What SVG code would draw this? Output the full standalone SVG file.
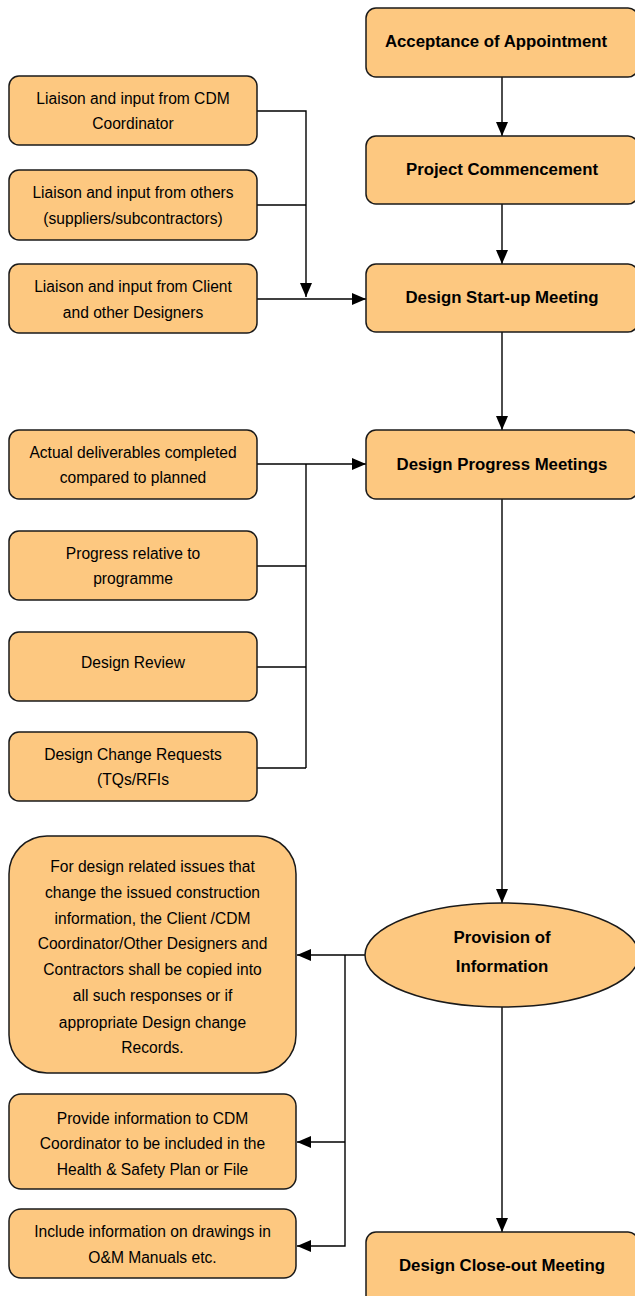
<svg xmlns="http://www.w3.org/2000/svg" width="635" height="1296" viewBox="0 0 635 1296">
<style>
.box{fill:#FDC880;stroke:#1a1a1a;stroke-width:1.5}
.t{font-family:"Liberation Sans",Arial,sans-serif;font-size:15.6px;fill:#000;text-anchor:middle}
.b{font-family:"Liberation Sans",Arial,sans-serif;font-size:16.8px;font-weight:bold;fill:#000;text-anchor:middle}
.c{fill:none;stroke:#000;stroke-width:1.4}
</style>
<defs>
<marker id="arr" markerUnits="userSpaceOnUse" markerWidth="14" markerHeight="12" refX="14" refY="6" orient="auto">
<path d="M0,0 L14,6 L0,12 z" fill="#000"/>
</marker>
</defs>
<rect width="635" height="1296" fill="#fff"/>
<g id="connectors">
<path class="c" d="M502,77 V136" marker-end="url(#arr)"/>
<path class="c" d="M502,204 V264" marker-end="url(#arr)"/>
<path class="c" d="M502,332 V430" marker-end="url(#arr)"/>
<path class="c" d="M502,499 V903" marker-end="url(#arr)"/>
<path class="c" d="M502,1007 V1232" marker-end="url(#arr)"/>
<path class="c" d="M257,111 H306 V297" marker-end="url(#arr)"/>
<path class="c" d="M257,205 H306"/>
<path class="c" d="M257,299 H366" marker-end="url(#arr)"/>
<path class="c" d="M257,464 H366" marker-end="url(#arr)"/>
<path class="c" d="M306,464 V768"/>
<path class="c" d="M257,566 H306"/>
<path class="c" d="M257,667 H306"/>
<path class="c" d="M257,768 H306"/>
<path class="c" d="M366,955 H297" marker-end="url(#arr)"/>
<path class="c" d="M345,955 V1246 H297" marker-end="url(#arr)"/>
<path class="c" d="M345,1142 H297" marker-end="url(#arr)"/>
</g>
<g id="acceptance">
<rect class="box" x="366" y="8" width="272" height="69" rx="10"/>
<text class="b" x="496" y="47">Acceptance of Appointment</text>
</g>
<g id="commencement">
<rect class="box" x="366" y="136" width="272" height="68" rx="10"/>
<text class="b" x="502" y="175">Project Commencement</text>
</g>
<g id="startup">
<rect class="box" x="366" y="264" width="272" height="68" rx="10"/>
<text class="b" x="502" y="303">Design Start-up Meeting</text>
</g>
<g id="progress">
<rect class="box" x="366" y="430" width="272" height="69" rx="10"/>
<text class="b" x="502" y="470">Design Progress Meetings</text>
</g>
<g id="provision">
<ellipse class="box" cx="502" cy="955" rx="137" ry="52"/>
<text class="b" x="502" y="943">Provision of</text>
<text class="b" x="502" y="972">Information</text>
</g>
<g id="closeout">
<rect class="box" x="366" y="1232" width="272" height="80" rx="10"/>
<text class="b" x="502" y="1271">Design Close-out Meeting</text>
</g>
<g id="liaison-cdm">
<rect class="box" x="9" y="76" width="248" height="69" rx="10"/>
<text class="t" x="133" y="104">Liaison and input from CDM</text>
<text class="t" x="133" y="129">Coordinator</text>
</g>
<g id="liaison-others">
<rect class="box" x="9" y="170" width="248" height="70" rx="10"/>
<text class="t" x="133" y="198">Liaison and input from others</text>
<text class="t" x="133" y="224">(suppliers/subcontractors)</text>
</g>
<g id="liaison-client">
<rect class="box" x="9" y="264" width="248" height="69" rx="10"/>
<text class="t" x="133" y="292">Liaison and input from Client</text>
<text class="t" x="133" y="318">and other Designers</text>
</g>
<g id="deliverables">
<rect class="box" x="9" y="430" width="248" height="69" rx="10"/>
<text class="t" x="133" y="458">Actual deliverables completed</text>
<text class="t" x="133" y="483">compared to planned</text>
</g>
<g id="progress-relative">
<rect class="box" x="9" y="531" width="248" height="69" rx="10"/>
<text class="t" x="133" y="559">Progress relative to</text>
<text class="t" x="133" y="584">programme</text>
</g>
<g id="design-review">
<rect class="box" x="9" y="632" width="248" height="69" rx="10"/>
<text class="t" x="133" y="668">Design Review</text>
</g>
<g id="change-requests">
<rect class="box" x="9" y="732" width="248" height="69" rx="10"/>
<text class="t" x="133" y="760">Design Change Requests</text>
<text class="t" x="133" y="785">(TQs/RFIs</text>
</g>
<g id="design-issues">
<rect class="box" x="9" y="836" width="287" height="237" rx="38"/>
<text class="t" x="152.5" y="872">For design related issues that</text>
<text class="t" x="152.5" y="898">change the issued construction</text>
<text class="t" x="152.5" y="924">information, the Client /CDM</text>
<text class="t" x="152.5" y="949">Coordinator/Other Designers and</text>
<text class="t" x="152.5" y="975">Contractors shall be copied into</text>
<text class="t" x="152.5" y="1001">all such responses or if</text>
<text class="t" x="152.5" y="1028">appropriate Design change</text>
<text class="t" x="152.5" y="1053">Records.</text>
</g>
<g id="provide-info">
<rect class="box" x="9" y="1094" width="287" height="95" rx="12"/>
<text class="t" x="152.5" y="1124">Provide information to CDM</text>
<text class="t" x="152.5" y="1149">Coordinator to be included in the</text>
<text class="t" x="152.5" y="1175">Health &amp; Safety Plan or File</text>
</g>
<g id="include-info">
<rect class="box" x="9" y="1209" width="287" height="69" rx="12"/>
<text class="t" x="152.5" y="1237">Include information on drawings in</text>
<text class="t" x="152.5" y="1263">O&amp;M Manuals etc.</text>
</g>
</svg>
